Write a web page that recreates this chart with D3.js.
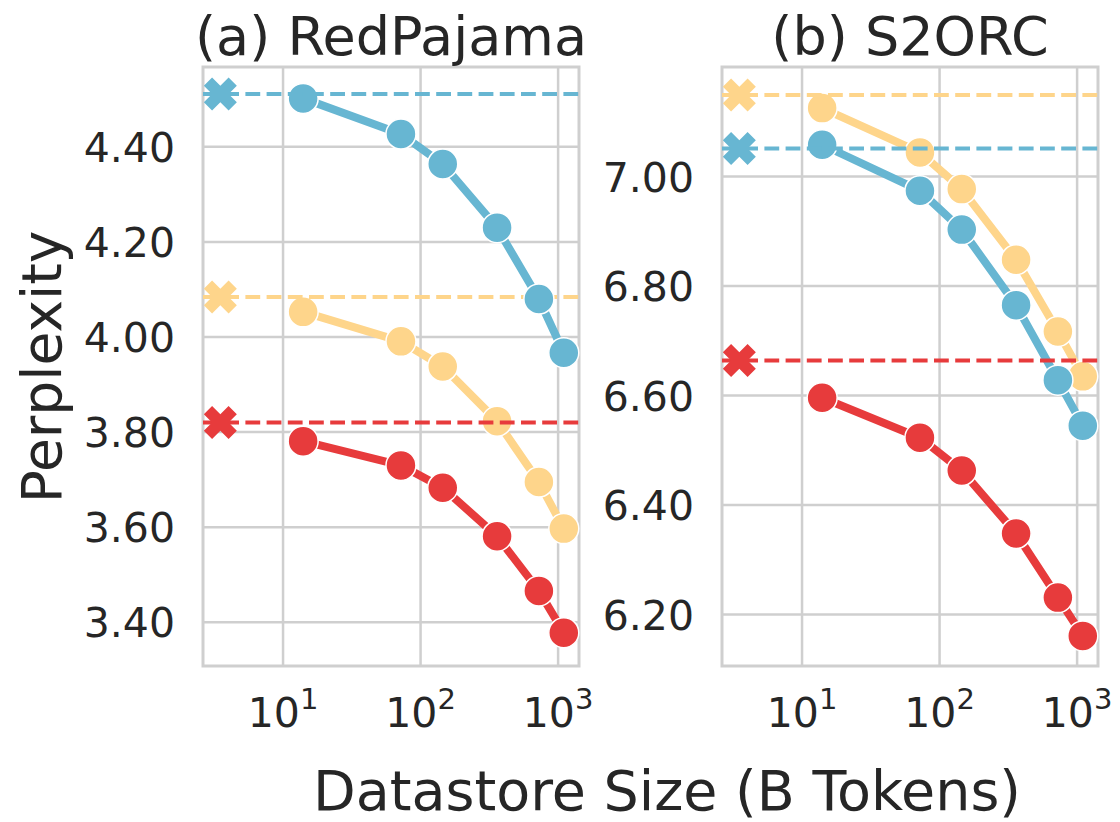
<!DOCTYPE html>
<html>
<head>
<meta charset="utf-8">
<script src="https://cdn.jsdelivr.net/npm/d3@7"></script>
<style>
  html, body { margin: 0; padding: 0; background: #ffffff; }
  svg { display: block; font-family: "DejaVu Sans", sans-serif; }
</style>
</head>
<body>
<svg id="chart" width="1120" height="822"></svg>
<script>
// Datastore sizes (billions of tokens) and the x position of the no-retrieval baseline
const datastoreSizes = [14, 72, 145, 360, 725, 1100];
const baselineSize = 3.5;

// Panel titles and tick labels
const panelTitles = ["(a) RedPajama", "(b) S2ORC"];
const xTickValues = [10, 100, 1000];
const xTickExponents = ["1", "2", "3"];
const yTicksRedPajama = [3.4, 3.6, 3.8, 4.0, 4.2, 4.4];
const yTicksS2ORC = [6.2, 6.4, 6.6, 6.8, 7.0];

// Perplexity per datastore size, RedPajama
const rpBlue = [4.502, 4.427, 4.364, 4.230, 4.080, 3.967];
const rpYellow = [4.053, 3.991, 3.938, 3.823, 3.695, 3.597];
const rpRed = [3.781, 3.730, 3.683, 3.581, 3.466, 3.378];
// Perplexity without retrieval, RedPajama
const rpBaselines = { blue: 4.511, yellow: 4.084, red: 3.820 };

// Perplexity per datastore size, S2ORC
const s2Blue = [7.058, 6.974, 6.903, 6.765, 6.628, 6.545];
const s2Yellow = [7.125, 7.044, 6.977, 6.848, 6.717, 6.635];
const s2Red = [6.596, 6.523, 6.463, 6.348, 6.231, 6.161];
// Perplexity without retrieval, S2ORC
const s2Baselines = { blue: 7.051, yellow: 7.149, red: 6.664 };

const colors = { blue: "#67b6d2", yellow: "#fed58b", red: "#e73b3c" };
const drawOrder = ["yellow", "blue", "red"];
const textColor = "#262626";
const gridColor = "#cfcfcf";

const svg = d3.select("#chart");

const panels = [
  {
    title: panelTitles[0], left: 203, right: 579,
    yDomain: [3.308, 4.568], yTicks: yTicksRedPajama,
    series: { blue: rpBlue, yellow: rpYellow, red: rpRed }, baselines: rpBaselines
  },
  {
    title: panelTitles[1], left: 722, right: 1098,
    yDomain: [6.106, 7.200], yTicks: yTicksS2ORC,
    series: { blue: s2Blue, yellow: s2Yellow, red: s2Red }, baselines: s2Baselines
  }
];
const plotTop = 67, plotBottom = 666;

// Filled "X" marker, unit square outline scaled to the given size
function xMarkerPath(size) {
  const pts = [[-0.25,-0.5],[0,-0.25],[0.25,-0.5],[0.5,-0.25],[0.25,0],[0.5,0.25],
               [0.25,0.5],[0,0.25],[-0.25,0.5],[-0.5,0.25],[-0.25,0],[-0.5,-0.25]];
  return "M" + pts.map(p => (p[0]*size).toFixed(2) + "," + (p[1]*size).toFixed(2)).join("L") + "Z";
}

panels.forEach(p => {
  const x = d3.scaleLog().domain([Math.pow(10, 0.418), Math.pow(10, 3.152)]).range([p.left, p.right]);
  const y = d3.scaleLinear().domain(p.yDomain).range([plotBottom, plotTop]);
  const g = svg.append("g");

  // grid
  g.append("g").selectAll("line").data(xTickValues).join("line")
    .attr("x1", d => x(d)).attr("x2", d => x(d)).attr("y1", plotTop).attr("y2", plotBottom)
    .attr("stroke", gridColor).attr("stroke-width", 2.5);
  g.append("g").selectAll("line").data(p.yTicks).join("line")
    .attr("x1", p.left).attr("x2", p.right).attr("y1", d => y(d)).attr("y2", d => y(d))
    .attr("stroke", gridColor).attr("stroke-width", 2.5);

  // frame
  g.append("rect").attr("x", p.left).attr("y", plotTop)
    .attr("width", p.right - p.left).attr("height", plotBottom - plotTop)
    .attr("fill", "none").attr("stroke", gridColor).attr("stroke-width", 3);

  // y tick labels
  g.append("g").selectAll("text").data(p.yTicks).join("text")
    .attr("x", p.left - 28).attr("y", d => y(d)).attr("dy", "0.37em")
    .attr("text-anchor", "end").attr("font-size", 41).attr("fill", textColor)
    .text(d => d3.format(".2f")(d));

  // x tick labels as 10 with a superscript exponent
  const xt = g.append("g").selectAll("text").data(xTickValues).join("text")
    .attr("x", d => x(d)).attr("y", 727)
    .attr("text-anchor", "middle").attr("font-size", 41).attr("fill", textColor);
  xt.append("tspan").text("10");
  xt.append("tspan").attr("font-size", 29).attr("dy", -18).text((d, i) => xTickExponents[i]);

  // title
  g.append("text").attr("x", (p.left + p.right) / 2).attr("y", 55)
    .attr("text-anchor", "middle").attr("font-size", 54).attr("fill", textColor)
    .text(p.title);

  const clip = "clip-" + p.left;
  svg.append("clipPath").attr("id", clip).append("rect")
    .attr("x", p.left).attr("y", plotTop).attr("width", p.right - p.left).attr("height", plotBottom - plotTop);

  const line = d3.line().x(d => x(d.s)).y(d => y(d.v));

  drawOrder.forEach(key => {
    const pts = p.series[key].map((v, i) => ({ s: datastoreSizes[i], v }));
    const sg = g.append("g");
    sg.append("path").datum(pts).attr("d", line)
      .attr("fill", "none").attr("stroke", colors[key]).attr("stroke-width", 8)
      .attr("stroke-linejoin", "round");
    sg.selectAll("circle").data(pts).join("circle")
      .attr("cx", d => x(d.s)).attr("cy", d => y(d.v)).attr("r", 15)
      .attr("fill", colors[key]).attr("stroke", "#ffffff").attr("stroke-width", 1.5);
    // baseline without retrieval
    sg.append("line").attr("clip-path", `url(#${clip})`)
      .attr("x1", p.left).attr("x2", p.right)
      .attr("y1", y(p.baselines[key])).attr("y2", y(p.baselines[key]))
      .attr("stroke", colors[key]).attr("stroke-width", 4).attr("stroke-dasharray", "14.8,6.4");
    sg.append("path").attr("d", xMarkerPath(33))
      .attr("transform", `translate(${x(baselineSize)},${y(p.baselines[key])})`)
      .attr("fill", colors[key]);
  });
});

// shared axis labels
svg.append("text").attr("x", 667).attr("y", 810)
  .attr("text-anchor", "middle").attr("font-size", 55.5).attr("fill", textColor)
  .text("Datastore Size (B Tokens)");
svg.append("text").attr("transform", "translate(61,367) rotate(-90)")
  .attr("text-anchor", "middle").attr("font-size", 55).attr("fill", textColor)
  .text("Perplexity");
</script>
</body>
</html>
